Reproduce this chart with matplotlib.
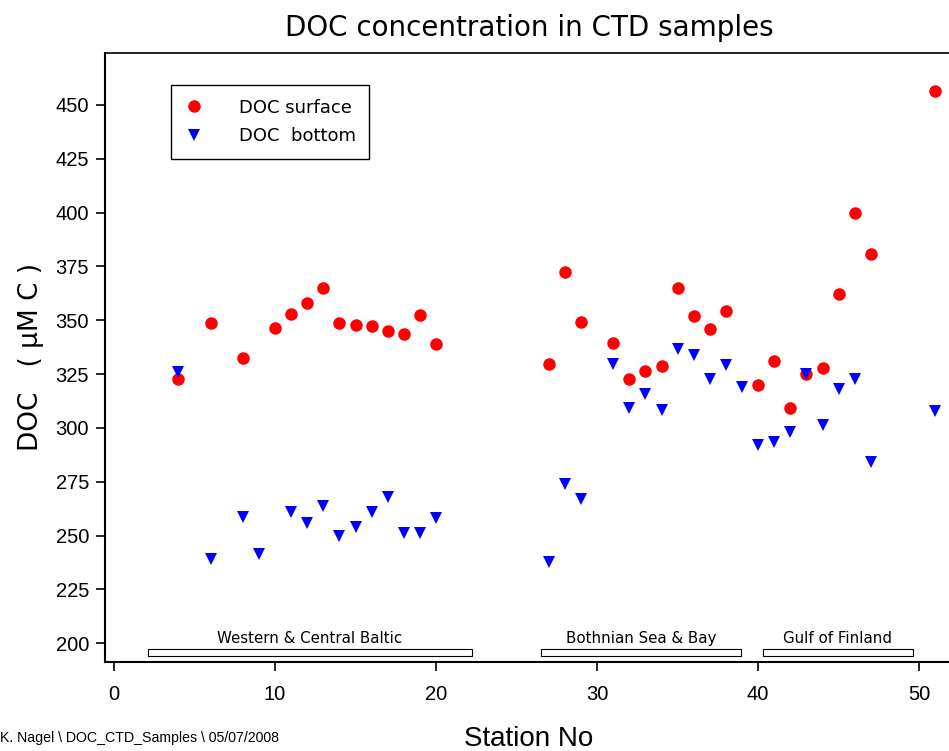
import matplotlib
matplotlib.use("Agg")
import matplotlib.pyplot as plt
from matplotlib.patches import Rectangle

# station numbers and DOC values (µM C)
surface_station = [4, 6, 8, 10, 11, 12, 13, 14, 15, 16, 17, 18, 19, 20,
                   27, 28, 29, 31, 32, 33, 34, 35, 36, 37, 38,
                   40, 41, 42, 43, 44, 45, 46, 47, 51]
surface_doc = [322.7, 348.7, 332.3, 346.4, 352.9, 357.8, 365.1, 348.8, 347.9, 347.2, 344.8, 343.6, 352.3, 338.8,
               329.8, 372.5, 349.3, 339.4, 322.7, 326.3, 328.6, 364.8, 351.8, 345.9, 354.3,
               319.8, 330.9, 309.4, 324.9, 327.8, 362.3, 399.6, 380.9, 456.3]

bottom_station = [4, 6, 8, 9, 11, 12, 13, 14, 15, 16, 17, 18, 19, 20,
                  27, 28, 29, 31, 32, 33, 34, 35, 36, 37, 38, 39,
                  40, 41, 42, 43, 44, 45, 46, 47, 51]
bottom_doc = [325.8, 239.1, 258.5, 241.5, 261.1, 255.7, 263.6, 250.0, 253.9, 261.0, 267.9, 251.3, 251.3, 258.0,
              237.6, 274.1, 267.0, 329.5, 309.2, 315.6, 308.5, 336.6, 333.7, 322.7, 329.3, 319.1,
              292.1, 293.6, 298.0, 325.2, 301.5, 318.1, 322.6, 284.3, 307.8]

# sea regions along the cruise track (station range)
region_names = ["Western & Central Baltic", "Bothnian Sea & Bay", "Gulf of Finland"]
region_start = [2.1, 26.5, 40.3]
region_end = [22.2, 38.95, 49.6]

fig = plt.figure(figsize=(9.49, 7.51), dpi=100)
ax = fig.add_axes([105 / 949, 89 / 751, 848 / 949, 609.3 / 751])

ax.plot(surface_station, surface_doc, linestyle="none", marker="o", color="#ff0000",
        markersize=9, markeredgewidth=0, label="DOC surface")
ax.plot(bottom_station, bottom_doc, linestyle="none", marker="v", color="#0000ff",
        markersize=8.5, markeredgewidth=0, label="DOC  bottom")

for name, x0, x1 in zip(region_names, region_start, region_end):
    ax.add_patch(Rectangle((x0, 194.1), x1 - x0, 3.1, facecolor="white",
                           edgecolor="black", linewidth=0.8))
    ax.text((x0 + x1) / 2, 198.6, name, ha="center", va="bottom", fontsize=10.8,
            family="DejaVu Sans")

ax.set_xlim(-0.56, 52.1)
ax.set_ylim(191.3, 474.2)
ax.set_xticks([0, 10, 20, 30, 40, 50])
ax.set_yticks(range(200, 451, 25))

for lab in ax.get_xticklabels() + ax.get_yticklabels():
    lab.set_family("Liberation Sans")
    lab.set_fontsize(14.5)
ax.tick_params(direction="out", length=6.5, width=1.2, pad=5)
ax.tick_params(axis="x", pad=10)

ax.spines["right"].set_visible(False)
ax.spines["left"].set_linewidth(1.5)
ax.spines["bottom"].set_linewidth(1.5)
ax.spines["top"].set_linewidth(1.2)

ax.set_title("DOC concentration in CTD samples", fontsize=20, family="DejaVu Sans", pad=12)
ax.set_ylabel("DOC   ( μM C )", fontsize=19, family="DejaVu Sans", labelpad=8)
ax.set_xlabel("Station No", fontsize=20, family="Liberation Sans", labelpad=16)

leg = ax.legend(loc="upper left", bbox_to_anchor=(0.078, 0.947), borderaxespad=0,
                fancybox=False, edgecolor="black", framealpha=1,
                handlelength=1.0, handletextpad=2.0, borderpad=0.75, labelspacing=0.6,
                prop={"family": "DejaVu Sans", "size": 13})
leg.get_frame().set_linewidth(1.0)

fig.text(0.0, 0.008, "K. Nagel \\ DOC_CTD_Samples \\ 05/07/2008", fontsize=10.2,
         family="Liberation Sans", ha="left", va="bottom")

fig.savefig("out.png", dpi=100)
